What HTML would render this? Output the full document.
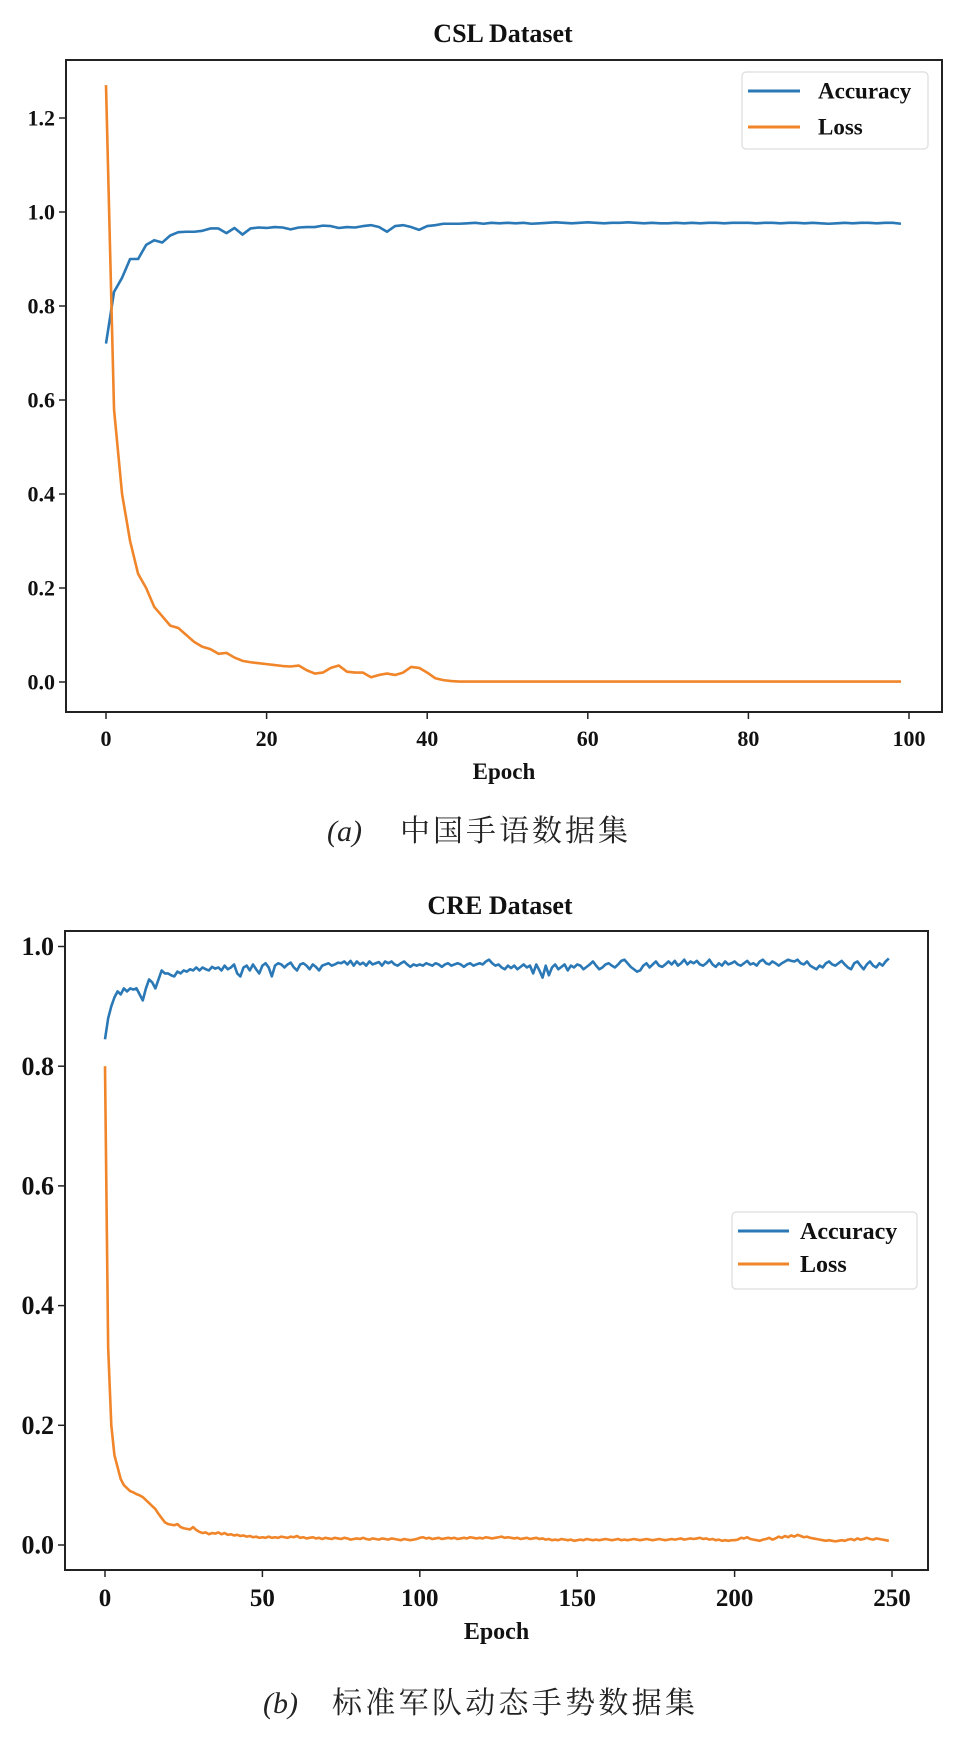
<!DOCTYPE html>
<html><head><meta charset="utf-8">
<style>
html,body{margin:0;padding:0;background:#fff;}
svg{display:block;}
text{font-family:"Liberation Serif","Noto Serif CJK SC",serif;}
.b{font-weight:bold;fill:#111;}
</style></head>
<body>
<svg id="fig" width="959" height="1745" viewBox="0 0 959 1745" xmlns="http://www.w3.org/2000/svg">
  <text x="327" y="841" font-size="30" fill="#222"><tspan font-style="italic">(a)</tspan><tspan x="400" font-family="Noto Serif CJK SC, serif" textLength="228">中国手语数据集</tspan></text>
  <text x="263" y="1713" font-size="30" fill="#222"><tspan font-style="italic">(b)</tspan><tspan x="332" font-family="Noto Serif CJK SC, serif" textLength="363">标准军队动态手势数据集</tspan></text>
</svg>
<script>
// ---- CSL data ----
const cslEpochTicks = [0,20,40,60,80,100];
const cslYTicks = [0.0,0.2,0.4,0.6,0.8,1.0,1.2];
const cslAcc = [.72,.83,.86,.90,.90,.93,.94,.935,.95,.957,
.958,.958,.96,.965,.965,.955,.966,.952,.965,.967,
.966,.968,.967,.963,.967,.968,.968,.971,.97,.966,
.968,.967,.97,.972,.968,.958,.97,.972,.968,.962,
.97,.972,.975,.975,.975,.976,.977,.975,.977,.976,
.977,.976,.977,.975,.976,.977,.978,.977,.976,.977,
.978,.977,.976,.977,.977,.978,.977,.976,.977,.976,
.976,.977,.976,.977,.976,.977,.977,.976,.977,.977,
.977,.976,.977,.977,.976,.977,.977,.976,.977,.976,
.975,.976,.977,.976,.977,.977,.976,.977,.977,.975];
const cslLoss = [1.27,.58,.40,.30,.23,.20,.16,.14,.12,.115,
.10,.085,.075,.07,.06,.062,.052,.045,.042,.04,
.038,.036,.034,.033,.035,.025,.018,.02,.03,.035,
.022,.02,.02,.01,.015,.018,.015,.02,.032,.03,
.02,.008,.004,.002,.001,.001,.001,.001,.001,.001,
.001,.001,.001,.001,.001,.001,.001,.001,.001,.001,
.001,.001,.001,.001,.001,.001,.001,.001,.001,.001,
.001,.001,.001,.001,.001,.001,.001,.001,.001,.001,
.001,.001,.001,.001,.001,.001,.001,.001,.001,.001,
.001,.001,.001,.001,.001,.001,.001,.001,.001,.001];
// ---- CRE data ----
const creEpochTicks = [0,50,100,150,200,250];
const creYTicks = [0.0,0.2,0.4,0.6,0.8,1.0];
const creAcc = [.845,.88,.90,.915,.925,.92,.93,.925,.93,.928,
.93,.92,.91,.93,.945,.94,.93,.945,.96,.955,
.955,.952,.95,.958,.955,.96,.958,.962,.96,.965,
.96,.965,.962,.96,.966,.963,.965,.96,.968,.962,
.965,.97,.955,.95,.965,.968,.96,.97,.962,.955,
.968,.972,.965,.95,.968,.972,.97,.965,.97,.973,
.965,.96,.97,.972,.968,.962,.97,.966,.96,.968,
.97,.972,.968,.97,.973,.972,.975,.97,.976,.968,
.975,.97,.973,.968,.975,.97,.972,.974,.968,.975,
.972,.975,.97,.968,.972,.975,.97,.966,.97,.968,
.97,.968,.972,.97,.968,.972,.97,.966,.97,.972,
.968,.97,.972,.97,.966,.97,.972,.968,.97,.972,
.97,.975,.978,.972,.968,.97,.965,.962,.968,.964,
.968,.962,.966,.97,.965,.968,.955,.97,.96,.948,
.968,.952,.965,.97,.962,.966,.97,.96,.968,.965,
.97,.968,.962,.966,.97,.975,.968,.962,.965,.97,
.972,.968,.965,.97,.976,.978,.972,.966,.962,.958,
.96,.968,.972,.965,.97,.975,.968,.966,.97,.975,
.97,.976,.968,.972,.978,.97,.975,.972,.976,.97,
.968,.972,.978,.97,.966,.972,.968,.975,.97,.972,
.975,.97,.968,.972,.976,.97,.972,.968,.975,.978,
.972,.97,.975,.972,.968,.972,.975,.978,.976,.975,
.978,.972,.97,.975,.968,.965,.962,.968,.965,.972,
.975,.97,.968,.972,.976,.97,.965,.962,.972,.975,
.968,.962,.97,.975,.968,.965,.972,.968,.975,.98];
const creLoss = [.80,.33,.20,.15,.13,.11,.10,.095,.09,.088,
.085,.083,.08,.075,.07,.065,.06,.052,.045,.038,
.035,.034,.033,.035,.03,.028,.027,.026,.03,.025,
.022,.02,.021,.018,.02,.019,.021,.018,.02,.017,
.018,.016,.017,.015,.016,.014,.015,.013,.014,.012,
.013,.012,.014,.012,.013,.012,.014,.013,.012,.014,
.013,.015,.012,.013,.011,.012,.013,.011,.012,.01,
.012,.011,.01,.012,.011,.01,.012,.011,.009,.01,
.011,.01,.012,.01,.009,.011,.01,.009,.011,.01,
.009,.011,.01,.009,.008,.01,.009,.008,.009,.01,
.012,.013,.011,.012,.01,.011,.012,.01,.011,.012,
.011,.012,.01,.011,.012,.011,.013,.012,.011,.012,
.011,.013,.012,.011,.012,.013,.014,.012,.013,.012,
.011,.012,.01,.011,.012,.01,.011,.012,.01,.011,
.009,.01,.008,.009,.008,.01,.009,.008,.009,.007,
.008,.009,.008,.01,.009,.008,.009,.008,.009,.01,
.009,.008,.009,.01,.008,.009,.008,.009,.01,.009,
.008,.009,.01,.009,.008,.009,.01,.009,.008,.009,
.01,.009,.01,.011,.009,.01,.011,.01,.011,.012,
.01,.011,.009,.01,.008,.009,.007,.008,.007,.008,
.008,.009,.012,.011,.013,.01,.009,.008,.007,.009,
.01,.012,.009,.011,.014,.012,.015,.013,.016,.014,
.017,.015,.013,.014,.012,.011,.01,.009,.008,.007,
.008,.007,.006,.007,.008,.007,.009,.01,.008,.011,
.009,.01,.012,.01,.009,.011,.01,.009,.008,.007];

const NS = "http://www.w3.org/2000/svg";
const svg = document.getElementById('fig');
function mk(tag, attrs, parent){
  const e = document.createElementNS(NS, tag);
  for (const k in attrs) e.setAttribute(k, attrs[k]);
  (parent||svg).appendChild(e);
  return e;
}
function drawChart(cfg){
  const g = mk('g', {});
  
  
  const sx = v => cfg.x0 + (v - 0) * (cfg.x1 - cfg.x0) / cfg.xMax;
  const sy = v => cfg.y0 - v * (cfg.y0 - cfg.y1) / cfg.yRef;
  // frame
  const fr = mk('rect', {x:cfg.L, y:cfg.T, width:cfg.R-cfg.L, height:cfg.B-cfg.T, fill:'none', stroke:'#222', 'stroke-width':2}, g);
  
  
  // title
  const t = mk('text', {x:cfg.titleX, y:cfg.titleY, 'font-size':cfg.titleFs, 'text-anchor':'middle', class:'b'}, g);
  t.textContent = cfg.title;
  
  
  // y ticks
  cfg.yTicks.forEach(v => {
    const y = sy(v);
    const tk = mk('line', {x1:cfg.L-7, x2:cfg.L, y1:y, y2:y, stroke:'#222', 'stroke-width':1.5}, g);
    
    
    const lb = mk('text', {x:cfg.L-11, y:y+cfg.yFs*0.33, 'font-size':cfg.yFs, 'text-anchor':'end', class:'b'}, g);
    lb.textContent = v.toFixed(1);
    
    
  });
  // x ticks
  cfg.xTicks.forEach(v => {
    const x = sx(v);
    const tk = mk('line', {x1:x, x2:x, y1:cfg.B, y2:cfg.B+7, stroke:'#222', 'stroke-width':1.5}, g);
    
    
    const lb = mk('text', {x:x, y:cfg.xLabY, 'font-size':cfg.xFs, 'text-anchor':'middle', class:'b'}, g);
    lb.textContent = String(v);
    
    
  });
  const xt = mk('text', {x:(cfg.L+cfg.R)/2, y:cfg.epochY, 'font-size':cfg.epochFs, 'text-anchor':'middle', class:'b'}, g);
  xt.textContent = 'Epoch';
  
  
  // series
  const series = [[cfg.acc,'#2a78b5','accuracy-line'],[cfg.loss,'#f0852a','loss-line']];
  series.forEach(([arr,col,nm]) => {
    const d = arr.map((v,i) => (i?'L':'M') + sx(i).toFixed(2) + ',' + sy(v).toFixed(2)).join(' ');
    const p = mk('path', {d:d, fill:'none', stroke:col, 'stroke-width':2.6, 'stroke-linejoin':'round'}, g);
    
    
  });
  // legend
  const lg = mk('g', {}, g);
  
  
  const lc = cfg.leg;
  mk('rect', {x:lc.x, y:lc.y, width:lc.w, height:lc.h, rx:4, fill:'#fff', stroke:'#ddd', 'stroke-width':1.2}, lg);
  [['Accuracy','#2a78b5',lc.y1,'legend-entry-accuracy'],['Loss','#f0852a',lc.y2,'legend-entry-loss']].forEach(([lab,col,yy,nm]) => {
    const e = mk('g', {}, lg);
    
    
    mk('line', {x1:lc.lx1, x2:lc.lx2, y1:yy, y2:yy, stroke:col, 'stroke-width':3}, e);
    const tx = mk('text', {x:lc.tx, y:yy+lc.fs*0.33, 'font-size':lc.fs, class:'b'}, e);
    tx.textContent = lab;
  });
}
drawChart({name:'csl-chart', title:'CSL Dataset', titleX:503, titleY:42, titleFs:26,
  L:66, R:942, T:60, B:712, x0:106, x1:909, xMax:100, y0:682, y1:212, yRef:1.0,
  yTicks:cslYTicks, xTicks:cslEpochTicks, yFs:22, xFs:22, xLabY:746, epochY:779, epochFs:23,
  acc:cslAcc, loss:cslLoss,
  leg:{x:742,y:72,w:186,h:77,y1:91,y2:127,lx1:748,lx2:800,tx:818,fs:23}});
drawChart({name:'cre-chart', title:'CRE Dataset', titleX:500, titleY:914, titleFs:26,
  L:65, R:928, T:931, B:1570, x0:105, x1:892, xMax:250, y0:1545, y1:946.5, yRef:1.0,
  yTicks:creYTicks, xTicks:creEpochTicks, yFs:26, xFs:25, xLabY:1606, epochY:1639, epochFs:24,
  acc:creAcc, loss:creLoss,
  leg:{x:732,y:1212,w:185,h:77,y1:1231,y2:1264,lx1:738,lx2:789,tx:800,fs:24}});
</script>
</body></html>
